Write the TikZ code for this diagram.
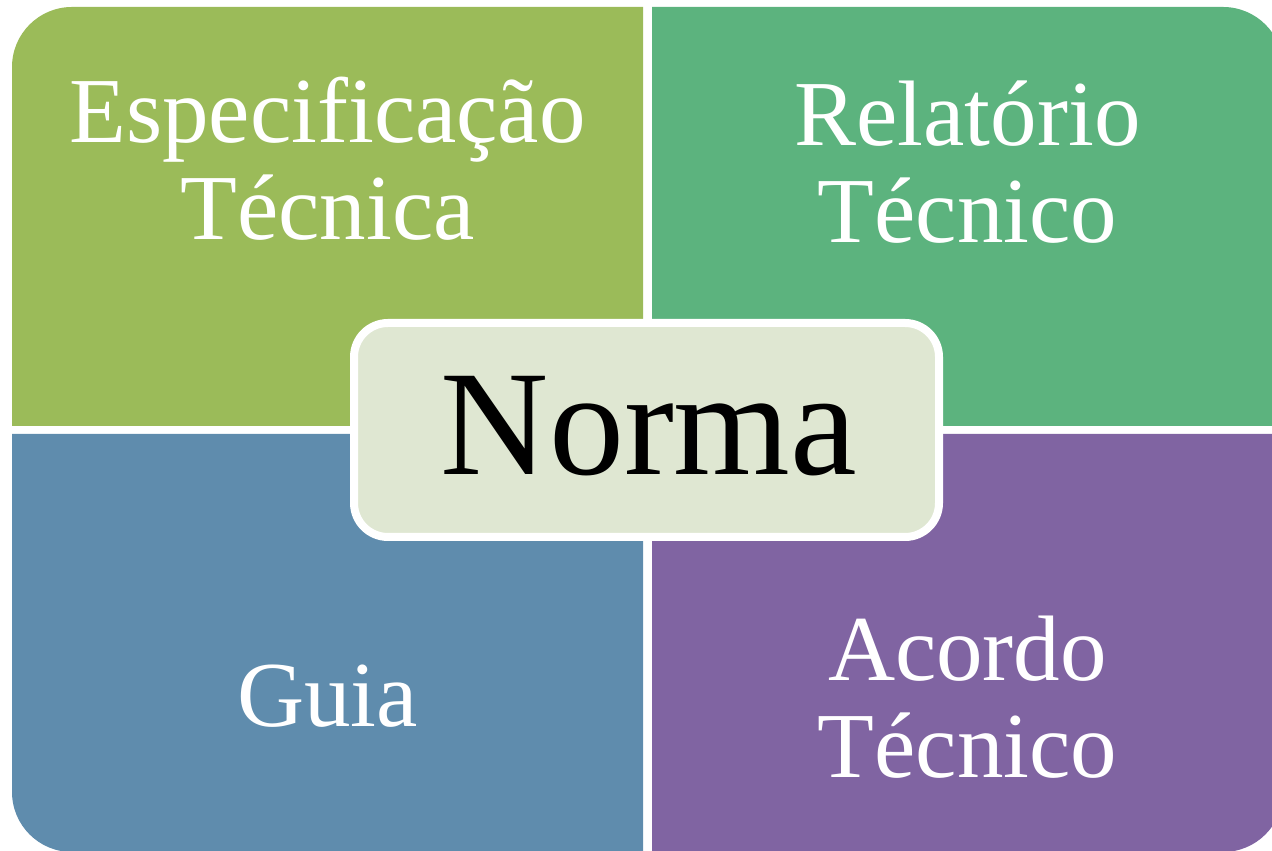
\documentclass[tikz,border=0pt]{standalone}
\usepackage{fontspec}
\setmainfont{Liberation Serif}
\usepackage{tikz}

\definecolor{olivequad}{HTML}{9BBB59}
\definecolor{greenquad}{HTML}{5CB37E}
\definecolor{bluequad}{HTML}{5F8CAD}
\definecolor{purplequad}{HTML}{8064A2}
\definecolor{normafill}{HTML}{DFE7D2}

\begin{document}
\begin{tikzpicture}[x=0.5pt,y=0.5pt,
    quadtext/.style={text=white,align=center,anchor=base,inner sep=0pt,
      font=\fontsize{46.5}{48.5}\selectfont},
    centerbox/.style={draw=white,line width=4pt,fill=normafill,rounded corners=17pt,
      minimum width=292.5pt,minimum height=107pt,inner sep=0pt}]
    \useasboundingbox (0,0) rectangle (1272,850);
    \clip (0,0) rectangle (1272,850);
    \fill[olivequad] (12,424) -- (12,783) arc[start angle=180,end angle=90,radius=30pt] -- (643,843) -- (643,424) -- cycle;
    \fill[greenquad] (652,424) -- (652,843) -- (1223,843) arc[start angle=90,end angle=0,radius=30pt] -- (1283,424) -- cycle;
    \fill[bluequad] (12,416) -- (643,416) -- (643,-2) -- (72,-2) arc[start angle=270,end angle=180,radius=30pt] -- cycle;
    \fill[purplequad] (652,416) -- (1283,416) -- (1283,58) arc[start angle=0,end angle=-90,radius=30pt] -- (652,-2) -- cycle;
    % base anchor sits on the last line
    \node[quadtext] (espec) at (327.5,610) {Especificação\\Técnica};
    \node[quadtext] (relat) at (967.5,607) {Relatório\\Técnico};
    \node[quadtext] (guia) at (327.5,123) {Guia};
    \node[quadtext] (acordo) at (967.5,72) {Acordo\\Técnico};
    \node[centerbox] (box) at (646.5,420) {};
    \node[anchor=base,inner sep=0pt,font=\fontsize{75}{80}\selectfont] (norma) at (649,375) {Norma};
\end{tikzpicture}
\end{document}
